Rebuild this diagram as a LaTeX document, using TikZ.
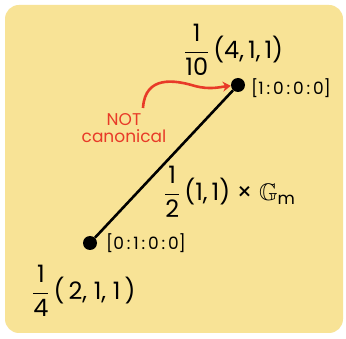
\documentclass[tikz,border=0pt]{standalone}
\usetikzlibrary{arrows.meta}
\usepackage{amsmath,amssymb}
\usepackage{fontspec}
\setmainfont{Poppins}
\definecolor{bg}{RGB}{248,227,150}
\definecolor{redink}{RGB}{232,58,40}
\newcommand{\fr}[2]{$\dfrac{\text{#1}}{\text{#2}}$}
\begin{document}
\begin{tikzpicture}[x=1pt,y=-1pt,
  dot/.style={circle,fill=black,inner sep=0pt,minimum size=14pt},
  lab/.style={font=\fontsize{24}{24}\selectfont,inner sep=0pt},
  coord/.style={font=\fontsize{17}{18}\selectfont,inner sep=0pt},
  note/.style={font=\fontsize{17}{17}\selectfont,text=redink,align=center,inner sep=0pt}]
\useasboundingbox (0,0) rectangle (346,339);
\fill[white] (0,0) rectangle (346,339);
\fill[bg,rounded corners=14pt] (5,5) rectangle (343,333);
\node[dot] (P) at (238,85) {};
\node[dot] (Q) at (90,243) {};
\draw[line width=2.6pt] (Q) -- (P);
\node[lab,anchor=west] (Plab) at (184,50) {\fr{1}{10}\,(4,\,1,\,1)};
\node[coord,anchor=west] (Pc) at (251,88) {[1\,:\,0\,:\,0\,:\,0]};
\node[lab,anchor=west] (Mlab) at (164,192) {\fr{1}{2}\,(1,\,1)\;×\;$\mathbb{G}_{\text{m}}$};
\node[coord,anchor=west] (Qc) at (106,243) {[0\,:\,1\,:\,0\,:\,0]};
\node[lab,anchor=west] (Qlab) at (32,291) {\fr{1}{4}\,(\,2,\;1,\;1\,)};
\node[note] (N) at (124,128) {NOT\\canonical};
\draw[redink,line width=2.6pt,-{Stealth[length=8pt,width=10pt]}] (143,108) .. controls (145,75) and (175,80) .. (195,86) .. controls (210,90) and (220,87) .. (P);
\end{tikzpicture}
\end{document}
